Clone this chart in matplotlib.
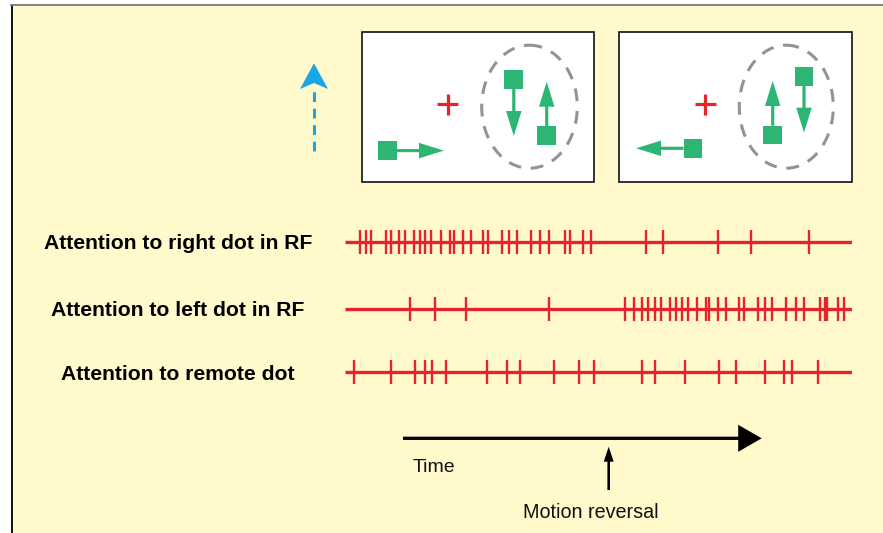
import numpy as np
import matplotlib
matplotlib.use('Agg')
import matplotlib.pyplot as plt
from matplotlib.patches import Rectangle, Ellipse, FancyArrow, Polygon

plt.rcParams['font.family'] = ['Liberation Sans', 'DejaVu Sans']

# spike times (ms from start of trial window, 0..1000)
labels = ['Attention to right dot in RF',
          'Attention to left dot in RF',
          'Attention to remote dot']

spikes_right = [30, 41, 52, 80, 91, 106, 118, 136, 147, 158, 169, 189, 207, 215,
                233, 248, 272, 282, 310, 324, 339, 366, 385, 403, 433, 444, 470,
                485, 594, 627, 736, 801, 916]
spikes_left = [128, 177, 238, 402, 552, 571, 585, 598, 611, 623, 641, 653, 664,
               676, 694, 712, 718, 736, 751, 777, 787, 814, 828, 843, 870, 889,
               906, 937, 947, 951, 973, 985]
spikes_remote = [18, 90, 139, 158, 172, 199, 281, 319, 345, 412, 461, 492, 585,
                 611, 671, 738, 771, 828, 866, 882, 933]
t_start, t_end = 0, 1000

W, H = 883, 533
bg = '#fff9cb'
red = '#e8232b'
green = '#2db673'
grey = '#939393'
blue = '#1aa6e6'

fig = plt.figure(figsize=(W / 100, H / 100), dpi=100)
fig.patch.set_facecolor('white')

# layout axes in pixel units
ax = fig.add_axes([0, 0, 1, 1])
ax.set_xlim(0, W)
ax.set_ylim(H, 0)
ax.axis('off')

ax.add_patch(Rectangle((11, 4), W - 11, H - 4, facecolor=bg, edgecolor='none'))
ax.plot([11.5, 11.5], [5, H], color='black', lw=1.3)
ax.plot([11, W], [4.5, 4.5], color='#7a7a7a', lw=1.3)

# stimulus panels
def green_arrow(x, y, dx, dy):
    ax.add_patch(FancyArrow(x, y, dx, dy, width=3.2, head_width=15.5,
                            head_length=25, length_includes_head=True,
                            color=green, lw=0))

def square(cx, cy):
    ax.add_patch(Rectangle((cx - 9.3, cy - 9.3), 18.6, 18.6,
                           facecolor=green, edgecolor='none'))

def cross(cx, cy):
    ax.plot([cx - 10.5, cx + 10.5], [cy, cy], color=red, lw=2.3, solid_capstyle='butt')
    ax.plot([cx, cx], [cy - 10.5, cy + 10.5], color=red, lw=2.3, solid_capstyle='butt')

for x0 in (361.7, 619):
    ax.add_patch(Rectangle((x0, 31.7), 232.5, 150.6, facecolor='white',
                           edgecolor='#111111', lw=1.2))

# panel 1
cross(447.7, 104)
square(387.5, 150.6)
green_arrow(396.7, 150.6, 47.3, 0)
ax.add_patch(Ellipse((529.5, 106.7), 95.6, 123, fill=False, edgecolor=grey,
                     lw=2.2, linestyle=(0, (4.2, 3.2))))
square(513.8, 79.5)
green_arrow(513.8, 89, 0, 47)
square(546.7, 135.5)
green_arrow(546.7, 126, 0, -44.3)

# panel 2
cross(705, 104.3)
square(692.8, 148.3)
green_arrow(683.5, 148.3, -47.5, 0)
ax.add_patch(Ellipse((786.3, 106.7), 94, 123, fill=False, edgecolor=grey,
                     lw=2.2, linestyle=(0, (4.2, 3.2))))
square(772.7, 135)
green_arrow(772.7, 125.7, 0, -44.7)
square(804, 76.7)
green_arrow(804, 86, 0, 46.7)

# blue dashed arrow
ax.plot([314, 314], [151, 86], color=blue, lw=2.2, linestyle=(0, (3.2, 2.2)))
ax.add_patch(Polygon([(314, 63.3), (328, 89), (314, 83), (300, 89)],
                     closed=True, facecolor=blue, edgecolor='none'))

# spike rasters, x in ms
ax_r = fig.add_axes([345 / W, 0, 507 / W, 1])
ax_r.set_xlim(t_start, t_end)
ax_r.set_ylim(H, 0)
ax_r.axis('off')
ax_r.patch.set_alpha(0)

row_y = [242.3, 308.7, 372]
label_y = [243.5, 311, 375]
for y, ly, sp, lab in zip(row_y, label_y, [spikes_right, spikes_left, spikes_remote], labels):
    ax_r.plot([t_start, t_end], [y, y], color=red, lw=2.4, solid_capstyle='butt')
    ax_r.vlines(sp, y - 12, y + 12, color=red, lw=1.7)
    ax.text(178, ly, lab, ha='center', va='center', fontsize=15.2,
            fontweight='bold', color='black')

# time axis
ax.add_patch(FancyArrow(403, 438.3, 358.7, 0, width=3.3, head_width=27,
                        head_length=23.5, length_includes_head=True,
                        color='black', lw=0))
ax.text(413, 471.7, 'Time', ha='left', va='baseline', fontsize=14, color='#111111')
ax.add_patch(FancyArrow(608.7, 490, 0, -43.3, width=2.6, head_width=10,
                        head_length=15, length_includes_head=True,
                        color='black', lw=0))
ax.text(591, 518, 'Motion reversal', ha='center', va='baseline', fontsize=14.2,
        color='#111111')

fig.savefig('out.png', dpi=100, facecolor='white')
